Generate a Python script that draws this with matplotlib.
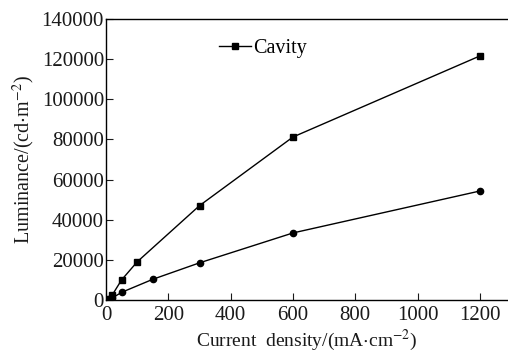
import numpy as np
from matplotlib import pyplot as plt

plt.rcParams['font.family'] = ['Liberation Serif', 'DejaVu Serif']
plt.rcParams['mathtext.fontset'] = 'stix'

# current density (mA/cm^2) and luminance (cd/m^2)
cavity_j = [10, 20, 50, 100, 300, 600, 1200]
cavity_L = [600, 2500, 10000, 19000, 47000, 81200, 121600]

ref_j = [10, 20, 50, 150, 300, 600, 1200]
ref_L = [300, 1000, 3800, 10300, 18500, 33400, 54300]

xticks = [0, 200, 400, 600, 800, 1000, 1200]
yticks = [0, 20000, 40000, 60000, 80000, 100000, 120000, 140000]

fig = plt.figure(figsize=(5.08, 3.55), dpi=100)
ax = fig.add_axes([0.2087, 0.155, 0.7913, 0.7915])

ax.plot(cavity_j, cavity_L, '-s', color='black', lw=1.0, ms=4.5,
        label='Cavity')
ax.plot(ref_j, ref_L, '-o', color='black', lw=1.0, ms=4.5)

ax.set_xlim(0, 1290)
ax.set_ylim(0, 140000)
ax.set_xticks(xticks)
ax.set_yticks(yticks)
ax.tick_params(direction='in', length=5, width=0.8, labelsize=15,
               colors='#1a1a1a')
ax.tick_params(axis='y', pad=1.5)
ax.tick_params(axis='x', pad=4.5)
ax.spines['right'].set_visible(False)
for s in ['left', 'bottom', 'top']:
    ax.spines[s].set_linewidth(1.0)

# lift the "0" on the y axis a little so it clears the x-axis "0"
ax.get_yticklabels()[0].set_va('center_baseline')

ax.set_xlabel('Current  density/(mA$\\cdot$cm$^{-2}$)', fontsize=14,
              color='#1a1a1a', labelpad=1.5)
ax.set_ylabel('Luminance/(cd$\\cdot$m$^{-2}$)', fontsize=14.5,
              color='#1a1a1a', labelpad=3)

ax.legend(loc='upper left', bbox_to_anchor=(0.235, 0.995), frameon=False,
          fontsize=14.5, handlelength=1.6, handletextpad=0.1)

fig.savefig('out.png', dpi=100)
